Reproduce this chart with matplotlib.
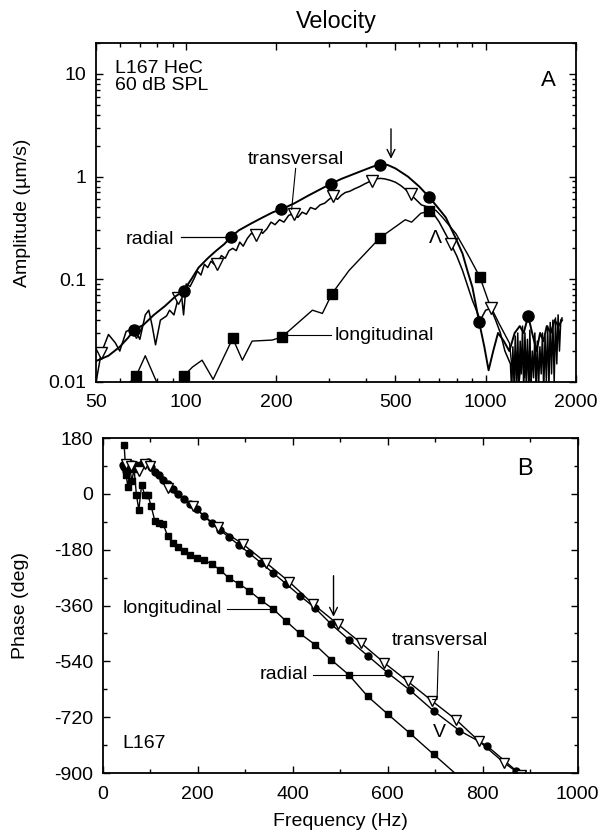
import numpy as np
import matplotlib.pyplot as plt
from matplotlib.ticker import FixedLocator, LogLocator, MultipleLocator, NullFormatter

plt.rcParams['font.family'] = ['Liberation Sans', 'DejaVu Sans']
plt.rcParams['font.size'] = 14
plt.rcParams['axes.unicode_minus'] = False

# --- Panel A: amplitude (um/s) vs frequency (Hz), log-log ---
rad_f = [50, 55, 60, 64, 67, 72, 78, 85, 92, 98, 104, 110, 118, 126, 134, 141, 150, 165, 180,
         195, 207, 230, 255, 280, 304, 330, 360, 390, 420, 444, 470, 500, 550, 600, 648, 700,
         736, 790, 837, 870, 903, 951, 990, 1023, 1060, 1100, 1150, 1200, 1250, 1300, 1340,
         1387, 1430, 1480, 1520, 1560, 1600, 1650, 1700, 1750, 1800]
rad_v = [0.016, 0.018, 0.022, 0.027, 0.032, 0.036, 0.045, 0.055, 0.068, 0.077, 0.10, 0.13,
         0.16, 0.19, 0.22, 0.258, 0.30, 0.35, 0.40, 0.45, 0.478, 0.55, 0.65, 0.75, 0.85, 0.95,
         1.05, 1.15, 1.25, 1.31, 1.30, 1.20, 1.0, 0.80, 0.63, 0.48, 0.40, 0.26, 0.178, 0.12,
         0.084, 0.0385, 0.022, 0.013, 0.02, 0.03, 0.025, 0.02, 0.03, 0.035, 0.03, 0.044, 0.03,
         0.02, 0.03, 0.025, 0.035, 0.03, 0.04, 0.035, 0.04]
rad_mk_f = [67, 98, 141, 207, 304, 444, 648, 951, 1387]
rad_mk_v = [0.032, 0.077, 0.258, 0.478, 0.85, 1.31, 0.63, 0.0385, 0.044]

tr_f = [50, 52, 55, 58, 60, 63, 66, 68, 70, 73, 75, 77, 79, 82, 86, 88, 91, 94, 96, 98, 100,
        103, 106, 109, 112, 115, 118, 121, 124, 127, 131, 135, 139, 143, 147, 151, 155, 160,
        165, 171, 176, 180, 186, 192, 198, 205, 212, 220, 229, 236, 244, 252, 260, 270, 280,
        290, 300, 310, 320, 330, 340, 352, 365, 380, 395, 405, 417, 430, 445, 460, 480, 500,
        520, 540, 562, 585, 610, 648, 700, 765, 800, 837, 903, 960, 1000, 1040, 1080, 1120,
        1160, 1210, 1222, 1233, 1245, 1256, 1268, 1280, 1292, 1304, 1316, 1328, 1340, 1353,
        1366, 1379, 1392, 1405, 1418, 1432, 1446, 1460, 1474, 1488, 1503, 1518, 1533, 1548,
        1563, 1579, 1595, 1611, 1627, 1643, 1660, 1677, 1694, 1711, 1728, 1746, 1764, 1782, 1800]
tr_v = [0.010, 0.019, 0.029, 0.024, 0.020, 0.031, 0.033, 0.031, 0.026, 0.045, 0.050, 0.035,
        0.023, 0.040, 0.044, 0.050, 0.045, 0.065, 0.080, 0.045, 0.090, 0.085, 0.10, 0.12, 0.11,
        0.14, 0.13, 0.15, 0.14, 0.142, 0.17, 0.16, 0.19, 0.20, 0.19, 0.23, 0.21, 0.25, 0.28,
        0.267, 0.30, 0.28, 0.31, 0.36, 0.34, 0.38, 0.36, 0.42, 0.434, 0.40, 0.45, 0.43, 0.50,
        0.48, 0.53, 0.55, 0.60, 0.64, 0.60, 0.66, 0.70, 0.72, 0.76, 0.80, 0.85, 0.88, 0.915,
        0.95, 0.96, 0.95, 0.92, 0.88, 0.82, 0.75, 0.67, 0.60, 0.53, 0.50, 0.36, 0.222, 0.17,
        0.122, 0.0625, 0.04, 0.05, 0.052, 0.04, 0.03, 0.02, 0.015, 0.008, 0.022, 0.009, 0.028,
        0.008, 0.030, 0.009, 0.025, 0.012, 0.035, 0.008, 0.030, 0.010, 0.026, 0.008, 0.032,
        0.009, 0.020, 0.011, 0.030, 0.008, 0.025, 0.009, 0.022, 0.012, 0.030, 0.008, 0.028,
        0.010, 0.035, 0.009, 0.038, 0.012, 0.040, 0.010, 0.042, 0.015, 0.045, 0.020, 0.040, 0.042]
tr_mk_f = [52, 68, 94, 127, 171, 229, 310, 417, 562, 765, 1040]
tr_mk_v = [0.019, 0.031, 0.065, 0.142, 0.267, 0.434, 0.64, 0.915, 0.67, 0.222, 0.052]

lo_f = [65, 68, 73, 80, 90, 98, 105, 113, 123, 143, 154, 166, 194, 209, 264, 285, 307, 350,
        444, 501, 539, 566, 608, 648, 682, 718, 796, 881, 957, 1028, 1108, 1202, 1230, 1260,
        1290, 1320, 1350, 1380, 1410]
lo_v = [0.010, 0.0114, 0.018, 0.0097, 0.007, 0.0114, 0.014, 0.0163, 0.0106, 0.0266, 0.0163,
        0.025, 0.0256, 0.0275, 0.050, 0.0465, 0.0726, 0.122, 0.254, 0.326, 0.38, 0.36, 0.44,
        0.457, 0.47, 0.40, 0.278, 0.165, 0.105, 0.058, 0.0372, 0.0238, 0.012, 0.02, 0.009,
        0.018, 0.011, 0.02, 0.009]
lo_mk_f = [68, 98, 143, 209, 307, 444, 648, 957]
lo_mk_v = [0.0114, 0.0114, 0.0266, 0.0275, 0.0726, 0.254, 0.457, 0.105]

# --- Panel B: phase (deg) vs frequency (Hz), linear ---
fB = [42, 45, 49, 53, 57, 61, 66, 71, 76, 82, 88, 95, 102, 110, 118, 127, 137, 148, 159, 171,
      184, 198, 213, 230, 247, 266, 287, 309, 333, 358, 386, 415, 447, 481, 518, 558, 601,
      647, 697, 751, 809, 871]
rad_ph = [92, 85, 73, 99, 85, 95, 88, 92, 86, 95, 99, 103, 88, 70, 60, 46, 32, 15, 0, -16,
          -33, -50, -72, -95, -117, -140, -165, -192, -222, -254, -290, -328, -368, -420,
          -470, -522, -578, -633, -700, -763, -812, -893]
lo_fB = [45, 49, 53, 57, 61, 66, 71, 76, 82, 88, 95, 102, 110, 118, 127, 137, 148, 159, 171,
         184, 198, 213, 230, 247, 266, 287, 309, 333, 358, 386, 415, 447, 481, 518, 558, 601,
         647, 697, 751]
lo_ph = [158, 62, 22, 88, 40, 80, -5, -51, 30, -3, -3, -40, -89, -95, -97, -137, -160, -172,
         -185, -198, -206, -213, -227, -245, -272, -290, -313, -343, -370, -410, -450, -486,
         -535, -583, -653, -711, -772, -840, -913]
tr_fB = [50, 60, 77, 90, 100, 137, 190, 242, 295, 344, 393, 442, 495, 544, 593, 642, 693, 744,
         793, 846, 880]
tr_ph = [95, 90, 73, 95, 90, 19, -40, -108, -162, -222, -284, -354, -420, -481, -545, -604,
         -667, -728, -798, -868, -905]

fig = plt.figure(figsize=(6.08, 8.34), dpi=100)
axA = fig.add_axes([0.158, 0.542, 0.789, 0.4065])
axB = fig.add_axes([0.169, 0.0731, 0.781, 0.4017])

# Panel A
axA.plot(lo_f, lo_v, 'k-', lw=1.0)
axA.plot(lo_mk_f, lo_mk_v, 'ks', ms=7, ls='none')
axA.plot(tr_f, tr_v, 'k-', lw=1.1)
axA.plot(tr_mk_f, tr_mk_v, 'kv', ms=8, mfc='white', mew=1.0, ls='none')
axA.plot(rad_f, rad_v, 'k-', lw=1.4)
axA.plot(rad_mk_f, rad_mk_v, 'ko', ms=8, ls='none')

axA.set_xscale('log')
axA.set_yscale('log')
axA.set_xlim(50, 2000)
axA.set_ylim(0.01, 20)
axA.xaxis.set_major_locator(FixedLocator([50, 100, 200, 500, 1000, 2000]))
axA.xaxis.set_major_formatter(plt.FixedFormatter(['50', '100', '200', '500', '1000', '2000']))
axA.xaxis.set_minor_locator(LogLocator(base=10, subs=np.arange(1, 10)))
axA.xaxis.set_minor_formatter(NullFormatter())
axA.yaxis.set_major_locator(FixedLocator([0.01, 0.1, 1, 10]))
axA.yaxis.set_major_formatter(plt.FixedFormatter(['0.01', '0.1', '1', '10']))
axA.yaxis.set_minor_locator(LogLocator(base=10, subs=np.arange(2, 10)))
axA.yaxis.set_minor_formatter(NullFormatter())
axA.set_ylabel('Amplitude (µm/s)')
axA.yaxis.set_label_coords(-0.135, 0.5)
axA.set_title('Velocity', pad=11)

axA.text(0.04, 0.95, 'L167 HeC\n60 dB SPL', transform=axA.transAxes, va='top', ha='left',
         linespacing=1.0)
axA.text(0.942, 0.89, 'A', transform=axA.transAxes, ha='center', va='center', fontsize=16)
axA.text(682, 0.25, 'Λ', ha='center', va='center', fontsize=14)
axA.annotate('', xy=(483, 1.4), xytext=(483, 3.1),
             arrowprops=dict(arrowstyle='->', lw=1.0, color='k'))
axA.text(232, 1.45, 'transversal', ha='center', va='center')
axA.plot([232, 225], [1.2, 0.48], 'k-', lw=0.8)
axA.text(91, 0.245, 'radial', ha='right', va='center')
axA.plot([96, 141], [0.258, 0.258], 'k-', lw=0.9)
axA.text(312, 0.0286, 'longitudinal', ha='left', va='center')
axA.plot([218, 304], [0.0286, 0.0286], 'k-', lw=0.8)

# Panel B
axB.plot(lo_fB, lo_ph, 'k-', lw=1.0, marker='s', ms=5)
axB.plot(fB, rad_ph, 'k-', lw=1.0, marker='o', ms=5)
axB.plot(tr_fB, tr_ph, 'k-', lw=1.0, marker='v', ms=6.5, mfc='white', mew=1.0)
axB.set_xlim(0, 1000)
axB.set_ylim(-900, 180)
axB.xaxis.set_major_locator(MultipleLocator(200))
axB.xaxis.set_minor_locator(MultipleLocator(100))
axB.yaxis.set_major_locator(MultipleLocator(180))
axB.yaxis.set_minor_locator(MultipleLocator(90))
axB.set_xlabel('Frequency (Hz)')
axB.set_ylabel('Phase (deg)')
axB.yaxis.set_label_coords(-0.155, 0.5)
axB.xaxis.set_label_coords(0.5, -0.12)

axB.text(0.89, 0.907, 'B', transform=axB.transAxes, ha='center', va='center', fontsize=17)
axB.text(0.042, 0.087, 'L167', transform=axB.transAxes, ha='left', va='center')
axB.text(42, -370, 'longitudinal', ha='left', va='center')
axB.plot([262, 352], [-370, -370], 'k-', lw=0.8)
axB.text(330, -583, 'radial', ha='left', va='center')
axB.plot([442, 598], [-583, -583], 'k-', lw=0.8)
axB.text(711, -473, 'transversal', ha='center', va='center')
axB.plot([707, 704, 695], [-508, -663, -663], 'k-', lw=0.8)
axB.annotate('', xy=(486, -405), xytext=(486, -255),
             arrowprops=dict(arrowstyle='->', lw=1.0, color='k'))
axB.text(709, -770, 'V', ha='center', va='center', fontsize=14)

for ax in (axA, axB):
    for s in ax.spines.values():
        s.set_linewidth(1.3)
    ax.tick_params(which='both', direction='in', top=True, right=True, width=1.0)
    ax.tick_params(which='major', length=5)
    ax.tick_params(which='minor', length=3)
axA.tick_params(axis='x', which='major', pad=9)
axA.tick_params(axis='y', which='major', pad=7)
axB.tick_params(axis='x', which='major', pad=9)
axB.tick_params(axis='y', which='major', pad=7)

fig.savefig('out.png', dpi=100)
